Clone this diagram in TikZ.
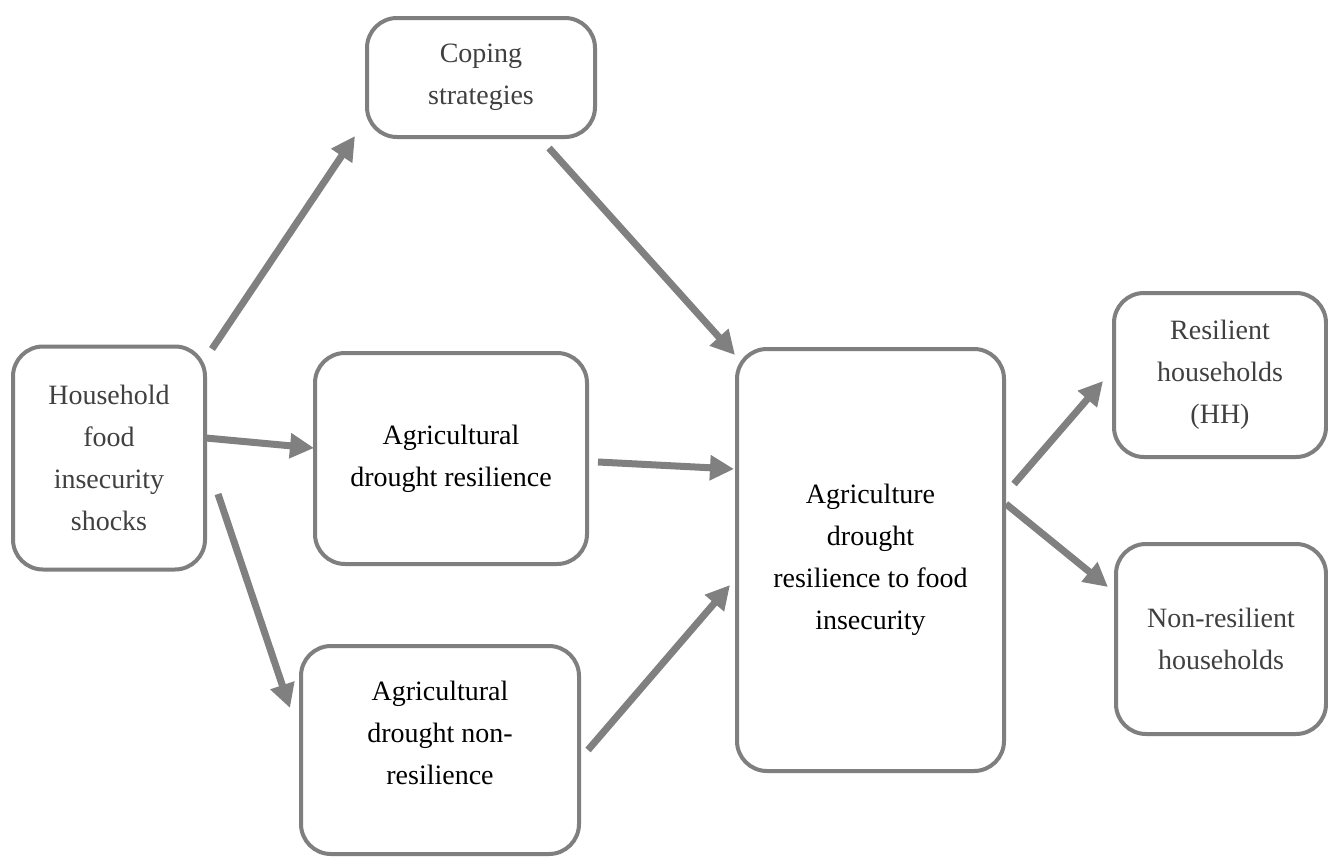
\documentclass[tikz,border=0pt]{standalone}
\usepackage{fontspec}
\setmainfont{Liberation Serif}
\usetikzlibrary{arrows.meta}
\definecolor{boxgray}{HTML}{7F7F7F}
\definecolor{arrgray}{HTML}{808080}
\definecolor{txtgray}{HTML}{404040}
\begin{document}
\begin{tikzpicture}[x=1pt,y=-1pt,
  box/.style={draw=boxgray, line width=4pt, rounded corners=30pt, fill=white,
    align=center, inner sep=0pt, font=\fontsize{28}{42}\selectfont},
  arr/.style={draw=arrgray, line width=7pt,
    -{Triangle[length=24pt,width=24pt]}},
  gtxt/.style={text=txtgray},
  btxt/.style={text=black}]
\useasboundingbox (0,0) rectangle (1328,857);
\fill[white] (0,0) rectangle (1328,857);

\node[box,gtxt,minimum width=228pt,minimum height=119pt] (cope) at (481,77.5) {Coping\\strategies};
\node[box,gtxt,minimum width=192pt,minimum height=223pt] (hh) at (109,458) {Household\\food\\insecurity\\shocks};
\node[box,btxt,minimum width=272pt,minimum height=211pt] (res) at (451,458.5) {Agricultural\\drought resilience};
\node[box,minimum width=278pt,minimum height=208pt] (nonres) at (440,750) {};
\node[btxt,align=center,inner sep=0pt,font=\fontsize{28}{42}\selectfont] (nonrestxt) at (440,733) {Agricultural\\drought non-\\resilience};
\node[box,btxt,minimum width=267pt,minimum height=422pt] (big) at (870.5,560) {Agriculture\\drought\\resilience to food\\insecurity};
\node[box,gtxt,minimum width=212pt,minimum height=164pt] (rhh) at (1220,375) {Resilient\\households\\(HH)};
\node[box,gtxt,minimum width=210pt,minimum height=190pt] (nrhh) at (1221,639) {Non-resilient\\households};

\coordinate (a1s) at (212,349);
\coordinate (a1e) at (355,136);
\coordinate (a2s) at (549,148);
\coordinate (a2e) at (735,355);
\coordinate (a3s) at (206,438);
\coordinate (a3e) at (314,448);
\coordinate (a4s) at (598,462);
\coordinate (a4e) at (734,469);
\coordinate (a5s) at (218,494);
\coordinate (a5e) at (290,708);
\coordinate (a6s) at (588,750);
\coordinate (a6e) at (730,585);
\coordinate (a7s) at (1014,484);
\coordinate (a7e) at (1103,381);
\coordinate (a8s) at (1006,504);
\coordinate (a8e) at (1108,587);

\draw[arr] (a1s) -- (a1e);
\draw[arr] (a2s) -- (a2e);
\draw[arr] (a3s) -- (a3e);
\draw[arr] (a4s) -- (a4e);
\draw[arr] (a5s) -- (a5e);
\draw[arr] (a6s) -- (a6e);
\draw[arr] (a7s) -- (a7e);
\draw[arr] (a8s) -- (a8e);
\end{tikzpicture}
\end{document}
